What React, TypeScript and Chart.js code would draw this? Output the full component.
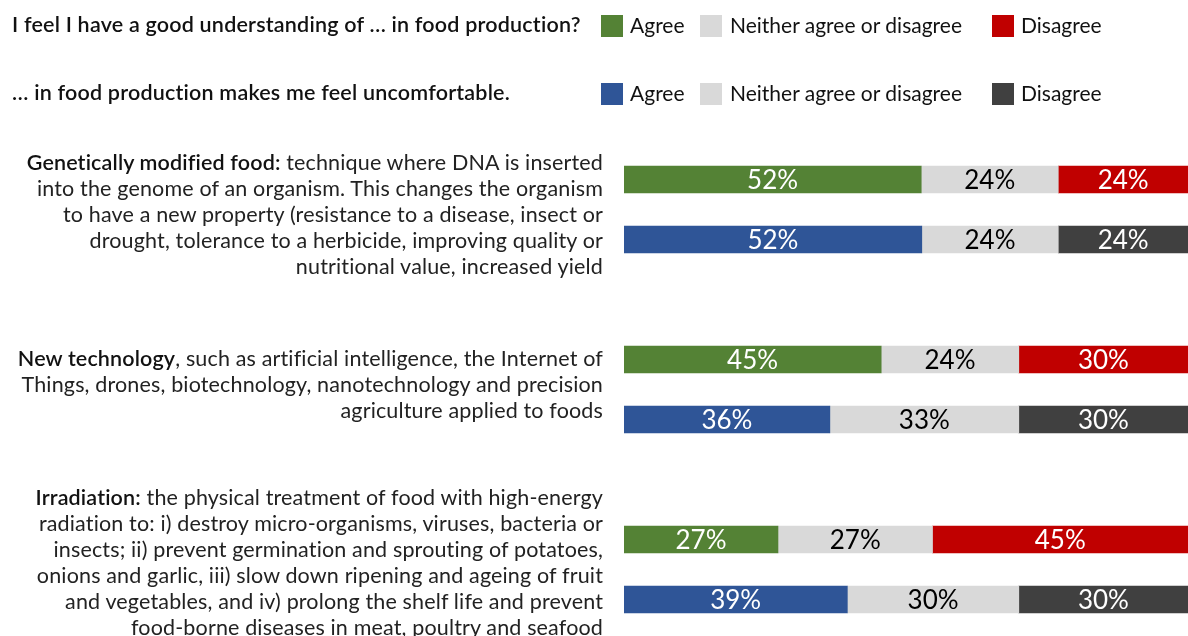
import { useEffect, useRef } from "react";
import { Chart, registerables } from "chart.js";

Chart.register(...registerables);

// ---------- data ----------
const topicTitles = ["Genetically modified food:", "New technology", "Irradiation:"];
const topicTexts = [
  [
    " technique where DNA is inserted",
    "into the genome of an organism. This changes the organism",
    "to have a new property (resistance to a disease, insect or",
    "drought, tolerance to a herbicide, improving quality or",
    "nutritional value, increased yield",
  ],
  [
    ", such as artificial intelligence, the Internet of",
    "Things, drones, biotechnology, nanotechnology and precision",
    "agriculture applied to foods",
  ],
  [
    " the physical treatment of food with high-energy",
    "radiation to: i) destroy micro-organisms, viruses, bacteria or",
    "insects; ii) prevent germination and sprouting of potatoes,",
    "onions and garlic, iii) slow down ripening and ageing of fruit",
    "and vegetables, and iv) prolong the shelf life and prevent",
    "food-borne diseases in meat, poultry and seafood",
  ],
];

const understandQuestion = "I feel I have a good understanding of … in food production?";
const uncomfortQuestion = "… in food production makes me feel uncomfortable.";
const legendLabels = ["Agree", "Neither agree or disagree", "Disagree"];

// "I feel I have a good understanding" (%)
const understandAgree = [52.7, 45.6, 27.3];
const understandNeither = [24.3, 24.4, 27.4];
const understandDisagree = [23.0, 30.0, 45.3];
const understandAgreeLabels = ["52%", "45%", "27%"];
const understandNeitherLabels = ["24%", "24%", "27%"];
const understandDisagreeLabels = ["24%", "30%", "45%"];

// "... makes me feel uncomfortable" (%)
const uncomfortAgree = [52.8, 36.5, 39.6];
const uncomfortNeither = [24.2, 33.5, 30.4];
const uncomfortDisagree = [23.0, 30.0, 30.0];
const uncomfortAgreeLabels = ["52%", "36%", "39%"];
const uncomfortNeitherLabels = ["24%", "33%", "30%"];
const uncomfortDisagreeLabels = ["24%", "30%", "30%"];

// ---------- style ----------
const GREEN = "#548235";
const BLUE = "#2F5597";
const GREY = "#D9D9D9";
const RED = "#C00000";
const DARK = "#404040";
const FONT = "Lato, 'Open Sans', sans-serif";

function interleave<T>(a: T[], b: T[]): (T | null)[] {
  const out: (T | null)[] = [];
  a.forEach((v, i) => {
    if (i > 0) out.push(null);
    out.push(v, b[i]);
  });
  return out;
}

const slotLabels = interleave(
  topicTitles.map((t) => t + " (understanding)"),
  topicTitles.map((t) => t + " (uncomfortable)")
).map((v, i) => (v === null ? " ".repeat(i + 1) : v));

const datasetLabels = [
  interleave(understandAgreeLabels, uncomfortAgreeLabels),
  interleave(understandNeitherLabels, uncomfortNeitherLabels),
  interleave(understandDisagreeLabels, uncomfortDisagreeLabels),
];

const dataLabelPlugin = {
  id: "segmentLabels",
  afterDatasetsDraw(chart: any) {
    const ctx = chart.ctx;
    ctx.save();
    ctx.font = `400 26px ${FONT}`;
    ctx.textAlign = "center";
    ctx.textBaseline = "middle";
    chart.data.datasets.forEach((ds: any, di: number) => {
      const meta = chart.getDatasetMeta(di);
      meta.data.forEach((el: any, idx: number) => {
        const txt = datasetLabels[di][idx];
        if (ds.data[idx] == null || !txt) return;
        const p = el.getProps(["x", "y", "base"], true);
        ctx.fillStyle = di === 1 ? "#000000" : "#FFFFFF";
        ctx.fillText(txt, (p.x + p.base) / 2, p.y + 1);
      });
    });
    ctx.restore();
  },
};

export default function App() {
  const ref = useRef<HTMLCanvasElement>(null);

  useEffect(() => {
    const chart = new Chart(ref.current!, {
      type: "bar",
      data: {
        labels: slotLabels,
        datasets: [
          {
            label: "Agree",
            data: interleave(understandAgree, uncomfortAgree),
            backgroundColor: interleave(
              understandAgree.map(() => GREEN),
              uncomfortAgree.map(() => BLUE)
            ) as any,
          },
          {
            label: "Neither agree or disagree",
            data: interleave(understandNeither, uncomfortNeither),
            backgroundColor: GREY,
          },
          {
            label: "Disagree",
            data: interleave(understandDisagree, uncomfortDisagree),
            backgroundColor: interleave(
              understandDisagree.map(() => RED),
              uncomfortDisagree.map(() => DARK)
            ) as any,
          },
        ],
      },
      options: {
        indexAxis: "y",
        responsive: false,
        animation: false,
        layout: { padding: { left: 624, right: 0, top: 149.5, bottom: 6.5 } },
        datasets: { bar: { barThickness: 27, borderWidth: 0 } },
        plugins: {
          legend: { display: false },
          tooltip: { enabled: false },
        },
        scales: {
          x: { stacked: true, min: 0, max: 100, display: false },
          y: { stacked: true, display: false },
        },
      },
      plugins: [dataLabelPlugin],
    });
    return () => chart.destroy();
  }, []);

  const textTops = [149, 345, 484];
  const legendRows = [
    { y: 15, colors: [GREEN, GREY, RED], title: understandQuestion },
    { y: 83, colors: [BLUE, GREY, DARK], title: uncomfortQuestion },
  ];
  const legendSquareX = [601, 700, 992];
  const legendTextX = [630, 730, 1021];

  return (
    <div
      style={{
        position: "absolute",
        left: 0,
        top: 0,
        width: 1188,
        height: 636,
        overflow: "hidden",
        background: "#fff",
        fontFamily: FONT,
      }}
    >
      <canvas
        ref={ref}
        width={1188}
        height={636}
        style={{ position: "absolute", left: 0, top: 0 }}
      />
      {legendRows.map((row, r) => (
        <div key={r}>
          <div
            style={{
              position: "absolute",
              left: 12,
              top: row.y - 6,
              fontSize: 21.5,
              letterSpacing: "0.2px",
              lineHeight: "30px",
              fontWeight: 600,
              color: "#111",
              whiteSpace: "nowrap",
            }}
          >
            {row.title}
          </div>
          {row.colors.map((c, i) => (
            <div key={i}>
              <div
                style={{
                  position: "absolute",
                  left: legendSquareX[i],
                  top: row.y,
                  width: 22,
                  height: 22,
                  background: c,
                }}
              />
              <div
                style={{
                  position: "absolute",
                  left: legendTextX[i],
                  top: row.y - 5,
                  fontSize: 21,
                  lineHeight: "30px",
                  color: "#111",
                  whiteSpace: "nowrap",
                }}
              >
                {legendLabels[i]}
              </div>
            </div>
          ))}
        </div>
      ))}
      {topicTitles.map((t, ti) => (
        <div
          key={ti}
          style={{
            position: "absolute",
            left: 0,
            width: 603,
            top: textTops[ti],
            textAlign: "right",
            fontSize: 21.5,
            letterSpacing: "0.15px",
            lineHeight: "26px",
            color: "#222",
            whiteSpace: "nowrap",
          }}
        >
          {topicTexts[ti].map((line, li) => (
            <div key={li}>
              {li === 0 ? (
                <span style={{ fontWeight: 600, color: "#111" }}>{t}</span>
              ) : null}
              {line}
            </div>
          ))}
        </div>
      ))}
    </div>
  );
}
